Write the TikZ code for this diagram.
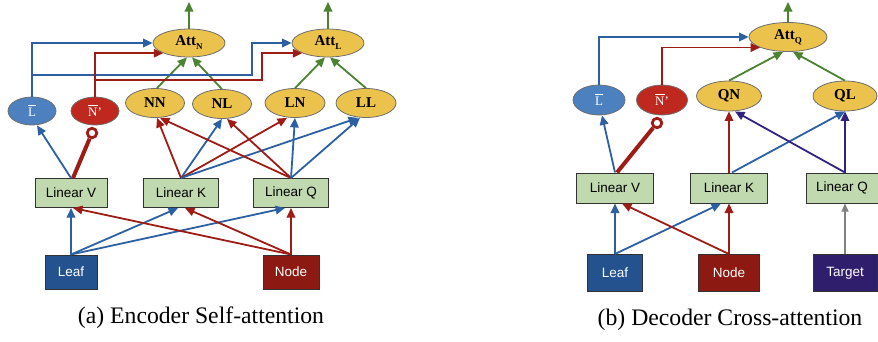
\documentclass[tikz,border=0pt]{standalone}
\usepackage{fontspec}
\setmainfont{Liberation Serif}
\setsansfont{Liberation Sans}
\usetikzlibrary{arrows.meta,shapes.geometric,calc}
\definecolor{attyellow}{RGB}{235,194,75}
\definecolor{ellgray}{RGB}{110,110,110}
\definecolor{ellblue}{RGB}{76,128,191}
\definecolor{ellred}{RGB}{190,40,30}
\definecolor{lingreen}{RGB}{192,217,175}
\definecolor{boxborder}{RGB}{50,50,50}
\definecolor{leafblue}{RGB}{35,82,143}
\definecolor{nodered}{RGB}{140,26,18}
\definecolor{targetpurple}{RGB}{47,30,108}
\definecolor{arblue}{RGB}{44,96,163}
\definecolor{arred}{RGB}{158,28,22}
\definecolor{argreen}{RGB}{76,130,50}
\definecolor{arpurple}{RGB}{50,34,128}
\definecolor{argray}{RGB}{128,128,128}
\newcommand{\subtxt}[1]{\raisebox{-4pt}{\fontsize{9}{9}\selectfont #1}}
\newcommand{\barred}[1]{\leavevmode\vbox{\hrule height 0.8pt\kern 2.2pt\hbox{#1}}}
\begin{document}
\begin{tikzpicture}[x=1pt,y=-1pt,
  ellbase/.style={ellipse, draw=ellgray, line width=0.8pt, inner sep=0pt},
  yelnode/.style={ellbase, fill=attyellow, font=\fontsize{15}{15}\selectfont\bfseries},
  bluenode/.style={ellbase, fill=ellblue, text=white, font=\fontsize{13}{13}\selectfont},
  rednode/.style={ellbase, fill=ellred, text=white, font=\fontsize{13}{13}\selectfont},
  linbox/.style={rectangle, draw=boxborder, line width=1pt, fill=lingreen, minimum height=29pt, inner sep=0pt, font=\sffamily\fontsize{13.5}{13.5}\selectfont},
  inbox/.style={rectangle, draw=boxborder, line width=1pt, inner sep=0pt, text=white, font=\sffamily\fontsize{13.5}{13.5}\selectfont},
  captext/.style={font=\fontsize{23.7}{24}\selectfont},
  ringnode/.style={circle, draw=arred, line width=2.8pt, fill=white, minimum size=9.5pt, inner sep=0pt},
  arbase/.style={line width=1.8pt, -{Triangle[length=9.5pt,width=8.5pt]}},
  bluearr/.style={arbase, draw=arblue},
  redarr/.style={arbase, draw=arred},
  greenarr/.style={arbase, draw=argreen},
  purplearr/.style={arbase, draw=arpurple},
  grayarr/.style={line width=1.2pt, draw=argray, -{Triangle[length=8pt,width=7pt]}},
  thickred/.style={line width=4pt, draw=arred}
]
\useasboundingbox (0,0) rectangle (878,341);

% ===== Panel (a) =====
\node[yelnode, minimum width=72pt, minimum height=28pt] (attN) at (189,43) {Att\subtxt{N}};
\node[yelnode, minimum width=72pt, minimum height=28pt] (attL) at (328,43) {Att\subtxt{L}};
\node[bluenode, minimum width=48pt, minimum height=28pt] (lbA) at (32,111) {\barred{L}};
\node[rednode, minimum width=48pt, minimum height=28pt] (npA) at (95,111) {\barred{N}’};
\node[yelnode, minimum width=59pt, minimum height=29pt] (NN) at (155,103) {NN};
\node[yelnode, minimum width=59pt, minimum height=29pt] (NL) at (222,104) {NL};
\node[yelnode, minimum width=60pt, minimum height=29pt] (LN) at (295,103) {LN};
\node[yelnode, minimum width=60pt, minimum height=29pt] (LL) at (366,103) {LL};
\node[ringnode] (vcA) at (92,133) {};

\node[linbox, minimum width=72pt] (lvA) at (71,193) {Linear V};
\node[linbox, minimum width=75pt] (lkA) at (181,193) {Linear K};
\node[linbox, minimum width=75pt] (lqA) at (291,193) {Linear Q};
\node[inbox, fill=leafblue, minimum width=52pt, minimum height=34pt] (leafA) at (71,272) {Leaf};
\node[inbox, fill=nodered, minimum width=56pt, minimum height=34pt] (nodeA) at (291,272) {Node};
\node[captext] (capA) at (201,318) {(a) Encoder Self-attention};

\coordinate (outN) at (189,2);
\coordinate (outL) at (328,2);
\coordinate (bA1) at (252,75);
\coordinate (rA1) at (262,80);

% inputs to linear layers
\draw[bluearr] (leafA.north) -- (lvA.south);
\draw[bluearr] (leafA.north) -- ([xshift=-3pt]lkA.south);
\draw[bluearr] (leafA.north) -- ([xshift=-6pt]lqA.south);
\draw[redarr] (nodeA.north) -- (lqA.south);
\draw[redarr] (nodeA.north) -- ([xshift=4pt]lkA.south);
\draw[redarr] (nodeA.north) -- ([xshift=2pt]lvA.south);

% linear V
\draw[bluearr] (lvA.north) -- ([xshift=5pt]lbA.south);
\draw[thickred] ([xshift=2pt]lvA.north) -- (vcA);

% linear K / Q to pair scores
\draw[redarr] (lkA.north) -- ([xshift=2pt]NN.south);
\draw[bluearr] (lkA.north) -- (NL.south);
\draw[redarr] (lkA.north) -- ([xshift=-8pt]LN.south);
\draw[bluearr] (lkA.north) -- ([xshift=-8pt]LL.south);
\draw[redarr] (lqA.north) -- ([xshift=5pt]NN.south);
\draw[redarr] (lqA.north) -- ([xshift=5pt]NL.south);
\draw[bluearr] (lqA.north) -- (LN.south);
\draw[bluearr] (lqA.north) -- ([xshift=-6pt]LL.south);

% scores to attention
\draw[greenarr] ([xshift=2pt]NN.north) -- ([xshift=-2pt]attN.south);
\draw[greenarr] (NL.north) -- ([xshift=3pt]attN.south);
\draw[greenarr] (LN.north) -- ([xshift=-3pt]attL.south);
\draw[greenarr] (LL.north) -- ([xshift=2pt]attL.south);
\draw[greenarr] (attN.north) -- (outN);
\draw[greenarr] (attL.north) -- (outL);

% value routes
\draw[bluearr] (lbA.north) |- (attN.west);
\draw[bluearr] (lbA.north) -- (lbA.north |- bA1) -- (bA1) |- (attL.west);
\draw[redarr] (npA.north) |- (attN.south west);
\draw[redarr] (npA.north) -- (npA.north |- rA1) -- (rA1) |- (attL.south west);

% ===== Panel (b) =====
\node[yelnode, minimum width=78pt, minimum height=29pt] (attQ) at (788,37) {Att\subtxt{Q}};
\node[bluenode, minimum width=52pt, minimum height=30pt] (lbB) at (599,100) {\barred{L}};
\node[rednode, minimum width=51pt, minimum height=30pt] (npB) at (662,100) {\barred{N}’};
\node[yelnode, minimum width=65pt, minimum height=30pt] (QN) at (729,96) {QN};
\node[yelnode, minimum width=64pt, minimum height=30pt] (QL) at (845,96) {QL};
\node[ringnode] (vcB) at (657,123) {};

\node[linbox, minimum width=77pt, minimum height=30pt] (lvB) at (615,188) {Linear V};
\node[linbox, minimum width=77pt, minimum height=30pt] (lkB) at (729,188) {Linear K};
\node[linbox, minimum width=72pt, minimum height=30pt] (lqB) at (842,188) {Linear Q};
\node[inbox, fill=leafblue, minimum width=55pt, minimum height=37pt] (leafB) at (615,273) {Leaf};
\node[inbox, fill=nodered, minimum width=61pt, minimum height=37pt] (nodeB) at (729,273) {Node};
\node[inbox, fill=targetpurple, minimum width=64pt, minimum height=37pt] (tgB) at (845,273) {Target};
\node[captext] (capB) at (730,320) {(b) Decoder Cross-attention};

\coordinate (outQ) at (788,2);

\draw[bluearr] (leafB.north) -- (lvB.south);
\draw[bluearr] (leafB.north) -- ([xshift=-8pt]lkB.south);
\draw[redarr] (nodeB.north) -- (lkB.south);
\draw[redarr] (nodeB.north) -- ([xshift=7pt]lvB.south);
\draw[grayarr] (tgB.north) -- (tgB.north |- lqB.south);

\draw[bluearr] (lvB.north) -- ([xshift=3pt]lbB.south);
\draw[thickred] ([xshift=2pt]lvB.north) -- (vcB);

\draw[redarr] (lkB.north) -- (QN.south);
\draw[bluearr] ([xshift=3pt]lkB.north) -- (QL.south);
\draw[purplearr] ([xshift=3pt]lqB.north) -- ([xshift=6pt]QN.south);
\draw[purplearr] ([xshift=3pt]lqB.north) -- (QL.south);

\draw[greenarr] (QN.north) -- ([xshift=-5pt]attQ.south);
\draw[greenarr] (QL.north) -- ([xshift=5pt]attQ.south);
\draw[greenarr] (attQ.north) -- (outQ);

\draw[bluearr] (lbB.north) |- (attQ.west);
\draw[redarr] (npB.north) |- (attQ.south west);
\end{tikzpicture}
\end{document}
